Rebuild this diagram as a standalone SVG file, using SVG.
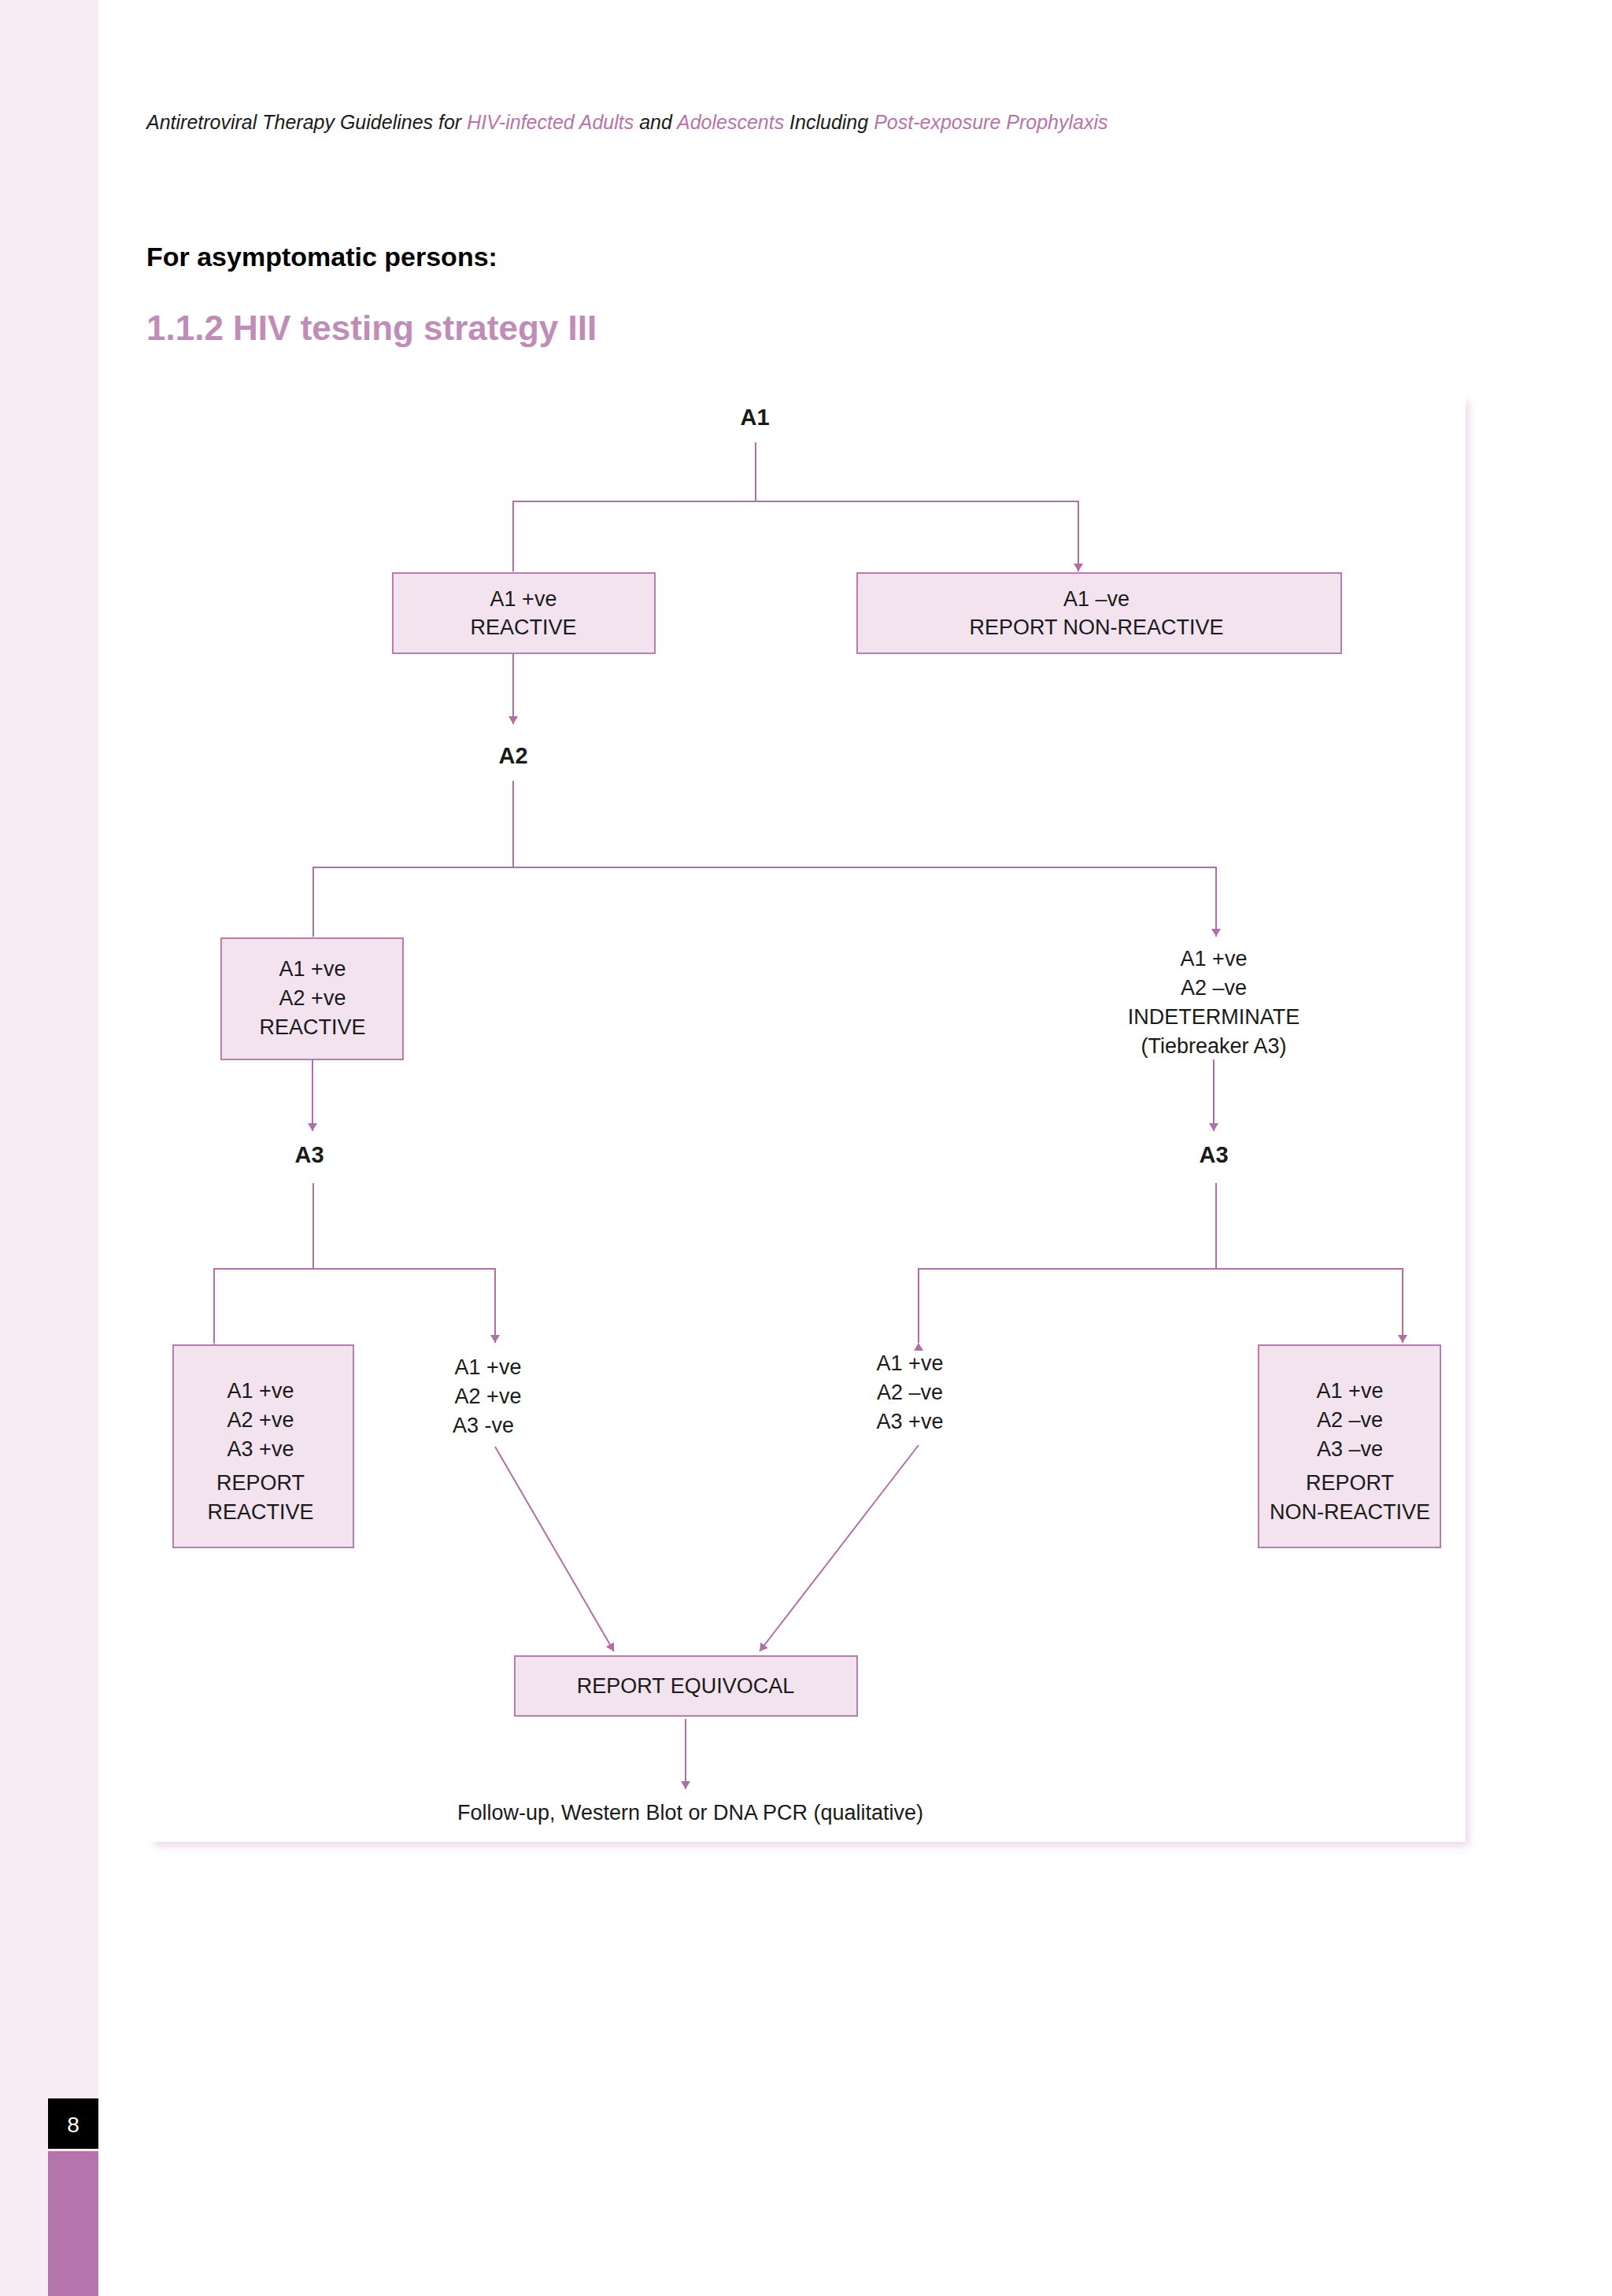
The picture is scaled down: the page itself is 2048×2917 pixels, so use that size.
<svg xmlns="http://www.w3.org/2000/svg" width="2048" height="2917" viewBox="0 0 2048 2917">
<defs>
<marker id="ah" viewBox="0 0 10 20" refX="10" refY="10" markerWidth="10" markerHeight="20" orient="auto" markerUnits="userSpaceOnUse"><path d="M0,4 L10,10 L0,16 Z" fill="#b06fa6"/></marker>
<filter id="sh" x="-5%" y="-5%" width="115%" height="115%"><feGaussianBlur stdDeviation="6"/></filter>
</defs>
<style>
.t{font-family:"Liberation Sans",Arial,sans-serif;font-size:27px;fill:#1a1a1a;text-anchor:middle}
.b{font-weight:bold;font-size:29px}
.box{fill:#f2e3ef;stroke:#b77cb0;stroke-width:2}
.c{stroke:#b06fa6;stroke-width:2;fill:none}
</style>
<rect width="2048" height="2917" fill="#fff"/>
<rect x="0" y="0" width="125" height="2917" fill="#f8ecf3"/>
<rect x="61" y="2666" width="64" height="64" fill="#000"/>
<text x="93" y="2709" style="font-family:'Liberation Sans',Arial,sans-serif;font-size:28px;fill:#fff;text-anchor:middle">8</text>
<rect x="61" y="2733" width="64" height="184" fill="#b574ab"/>
<text x="186" y="164" style="font-family:'Liberation Sans',Arial,sans-serif;font-size:25px;font-style:italic;fill:#1a1a1a">Antiretroviral Therapy Guidelines for <tspan fill="#b574ab">HIV-infected Adults</tspan> and <tspan fill="#b574ab">Adolescents</tspan> Including <tspan fill="#b574ab">Post-exposure Prophylaxis</tspan></text>
<text x="186" y="338" style="font-family:'Liberation Sans',Arial,sans-serif;font-size:34px;font-weight:bold;fill:#000">For asymptomatic persons:</text>
<text x="186" y="432" style="font-family:'Liberation Sans',Arial,sans-serif;font-size:44px;font-weight:bold;fill:#c08cb8">1.1.2  HIV testing strategy III</text>
<rect x="196" y="509" width="1670" height="1836" fill="#ead6e6" filter="url(#sh)"/>
<rect x="186" y="499" width="1676" height="1841" fill="#fff"/>
<g id="connectors">
<polyline class="c" points="960,562 960,637"/>
<polyline class="c" points="652,726 652,637 1370,637 1370,726" marker-start="url(#ah)" marker-end="url(#ah)"/>
<line class="c" x1="652" y1="830" x2="652" y2="920" marker-end="url(#ah)"/>
<line class="c" x1="652" y1="992" x2="652" y2="1102"/>
<polyline class="c" points="398,1190 398,1102 1545,1102 1545,1190" marker-start="url(#ah)" marker-end="url(#ah)"/>
<line class="c" x1="397" y1="1346" x2="397" y2="1437" marker-end="url(#ah)"/>
<line class="c" x1="1542" y1="1346" x2="1542" y2="1437" marker-end="url(#ah)"/>
<line class="c" x1="398" y1="1503" x2="398" y2="1612"/>
<polyline class="c" points="272,1706 272,1612 629,1612 629,1706" marker-start="url(#ah)" marker-end="url(#ah)"/>
<line class="c" x1="1545" y1="1503" x2="1545" y2="1612"/>
<polyline class="c" points="1167,1706 1167,1612 1782,1612 1782,1706" marker-start="url(#ah)" marker-end="url(#ah)"/>
<line class="c" x1="629" y1="1838" x2="780" y2="2098" marker-end="url(#ah)"/>
<line class="c" x1="1167" y1="1836" x2="965" y2="2098" marker-end="url(#ah)"/>
<line class="c" x1="871" y1="2184" x2="871" y2="2273" marker-end="url(#ah)"/>
</g>
<g id="a1"><text class="t b" x="959" y="540">A1</text></g>
<g id="n1"><rect class="box" x="499" y="728" width="333" height="102"/><text class="t" x="665" y="770">A1 +ve</text><text class="t" x="665" y="806">REACTIVE</text></g>
<g id="n2"><rect class="box" x="1089" y="728" width="615" height="102"/><text class="t" x="1393" y="770">A1 –ve</text><text class="t" x="1393" y="806">REPORT NON-REACTIVE</text></g>
<g id="a2"><text class="t b" x="652" y="970">A2</text></g>
<g id="n3"><rect class="box" x="281" y="1192" width="231" height="154"/><text class="t" x="397" y="1240">A1 +ve</text><text class="t" x="397" y="1277">A2 +ve</text><text class="t" x="397" y="1314">REACTIVE</text></g>
<g id="n4"><text class="t" x="1542" y="1227">A1 +ve</text><text class="t" x="1542" y="1264">A2 –ve</text><text class="t" x="1542" y="1301">INDETERMINATE</text><text class="t" x="1542" y="1338">(Tiebreaker A3)</text></g>
<g id="a3l"><text class="t b" x="393" y="1477">A3</text></g>
<g id="a3r"><text class="t b" x="1542" y="1477">A3</text></g>
<g id="n5"><rect class="box" x="220" y="1709" width="229" height="257"/><text class="t" x="331" y="1776">A1 +ve</text><text class="t" x="331" y="1813">A2 +ve</text><text class="t" x="331" y="1850">A3 +ve</text><text class="t" x="331" y="1893">REPORT</text><text class="t" x="331" y="1930">REACTIVE</text></g>
<g id="n6"><text class="t" x="620" y="1746">A1 +ve</text><text class="t" x="620" y="1783">A2 +ve</text><text class="t" x="614" y="1820">A3 -ve</text></g>
<g id="n7"><text class="t" x="1156" y="1741">A1 +ve</text><text class="t" x="1156" y="1778">A2 –ve</text><text class="t" x="1156" y="1815">A3 +ve</text></g>
<g id="n8"><rect class="box" x="1599" y="1709" width="231" height="257"/><text class="t" x="1715" y="1776">A1 +ve</text><text class="t" x="1715" y="1813">A2 –ve</text><text class="t" x="1715" y="1850">A3 –ve</text><text class="t" x="1715" y="1893">REPORT</text><text class="t" x="1715" y="1930">NON-REACTIVE</text></g>
<g id="n9"><rect class="box" x="654" y="2104" width="435" height="76"/><text class="t" x="871" y="2151">REPORT EQUIVOCAL</text></g>
<g id="n10"><text class="t" x="877" y="2312">Follow-up, Western Blot or DNA PCR (qualitative)</text></g>
</svg>
